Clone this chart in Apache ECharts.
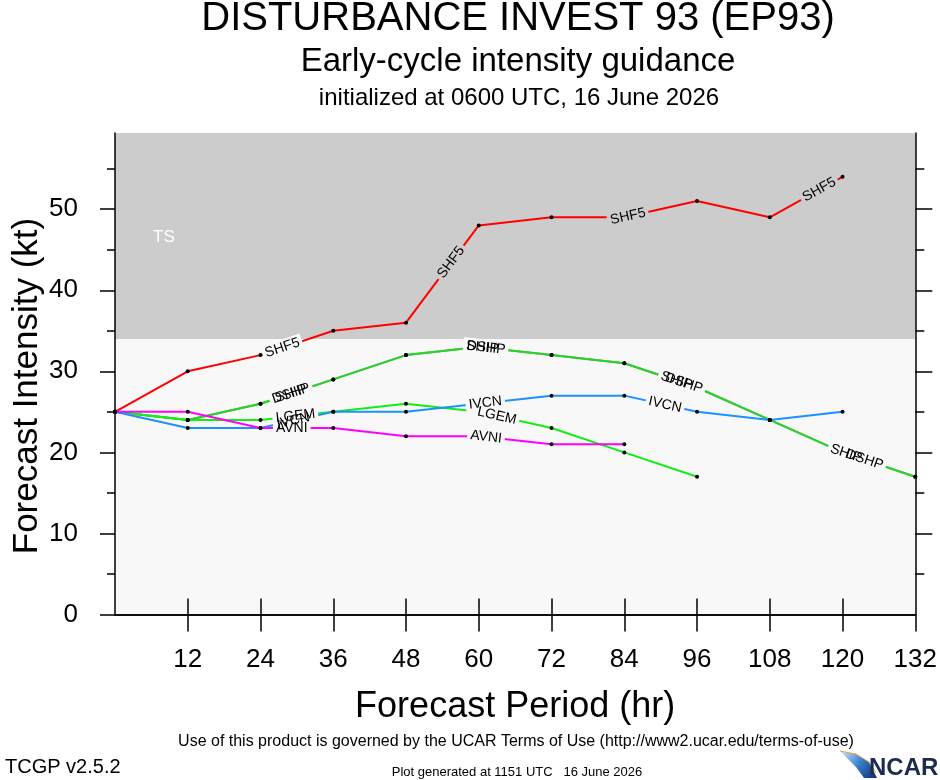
<!DOCTYPE html>
<html>
<head>
<meta charset="utf-8">
<script src="https://cdn.jsdelivr.net/npm/echarts@6/dist/echarts.min.js"></script>
<style>
  html, body { margin: 0; padding: 0; background: #fff; }
  #main { width: 940px; height: 780px; }
</style>
</head>
<body>
<div id="main"></div>
<script>
// forecast hours and model intensities (kt)
var hours = [0, 12, 24, 36, 48, 60, 72, 84, 96, 108, 120, 132];
var shf5 = [25, 30, 32, 35, 36, 48, 49, 49, 51, 49, 54];
var ship = [25, 24, 26, 29, 32, 33, 32, 31, 28, 24, 20, 17];
var dshp = [25, 24, 26, 29, 32, 33, 32, 31, 28, 24, 20, 17];
var lgem = [25, 24, 24, 25, 26, 25, 23, 20, 17];
var ivcn = [25, 23, 23, 25, 25, 26, 27, 27, 25, 24, 25];
var avni = [25, 25, 23, 23, 22, 22, 21, 21];
var xTicks = [12, 24, 36, 48, 60, 72, 84, 96, 108, 120, 132];
var xTopTicks = [12, 24, 36, 48, 60, 72, 84, 96, 108, 120];
var yTicks = [0, 10, 20, 30, 40, 50];
var yRightTicks = [10, 20, 30, 40, 50];
var yMinorTicks = [5, 15, 25, 35, 45, 55];
var yMax = 59.4;
var tsLow = 34;

(function () {
  var chart = echarts.init(document.getElementById('main'));
  var FONT = 'Liberation Sans';

  var models = {
    SHF5: { data: shf5, color: '#ff0000' },
    SHIP: { data: ship, color: '#33cc33' },
    DSHP: { data: dshp, color: '#33cc33' },
    LGEM: { data: lgem, color: '#11ee11' },
    IVCN: { data: ivcn, color: '#1e90ff' },
    AVNI: { data: avni, color: '#ff00ff' }
  };
  var order = ['SHF5', 'SHIP', 'DSHP', 'LGEM', 'IVCN', 'AVNI'];

  // inline labels: model, segment start index, fraction along segment
  var spots = [
    ['SHF5', 2, 0.3], ['SHF5', 4, 0.62], ['SHF5', 7, 0.05], ['SHF5', 9, 0.68],
    ['SHIP', 2, 0.42], ['DSHP', 2, 0.42],
    ['SHIP', 5, 0.05], ['DSHP', 5, 0.1],
    ['SHIP', 7, 0.72], ['DSHP', 7, 0.82],
    ['SHIP', 10, 0.05], ['DSHP', 10, 0.3],
    ['IVCN', 2, 0.45], ['IVCN', 5, 0.09], ['IVCN', 7, 0.56],
    ['LGEM', 2, 0.48], ['LGEM', 5, 0.25],
    ['AVNI', 2, 0.43], ['AVNI', 5, 0.1]
  ];
  var spotData = spots.map(function (s, i) {
    var v = models[s[0]].data;
    var a = s[1];
    return [hours[a], v[a], hours[a + 1], v[a + 1], s[2], i];
  });

  function labelRender(gap) {
    return function (params, api) {
      var p0 = api.coord([api.value(0), api.value(1)]);
      var p1 = api.coord([api.value(2), api.value(3)]);
      var t = api.value(4);
      var s = spots[api.value(5)];
      var kt = api.value(1) + (api.value(3) - api.value(1)) * t;
      return {
        type: 'text',
        x: p0[0] + (p1[0] - p0[0]) * t,
        y: p0[1] + (p1[1] - p0[1]) * t,
        rotation: Math.atan2(p0[1] - p1[1], p1[0] - p0[0]),
        style: {
          text: s[0],
          fontSize: 14,
          fontFamily: FONT,
          fill: gap ? 'rgba(0,0,0,0)' : '#000',
          align: 'center',
          verticalAlign: 'middle',
          backgroundColor: gap ? (kt >= tsLow ? '#cccccc' : '#f8f8f8') : null,
          padding: [1, 3]
        }
      };
    };
  }

  var series = [{
    type: 'line',
    data: [],
    z: 1,
    silent: true,
    markArea: {
      silent: true,
      itemStyle: { color: '#cccccc' },
      label: { position: [38, 96], color: '#fff', fontSize: 17, fontFamily: FONT },
      data: [[{ yAxis: tsLow, name: 'TS' }, { yAxis: yMax }]]
    }
  }];
  order.forEach(function (k) {
    series.push({
      name: k,
      type: 'line',
      z: 2,
      data: models[k].data.map(function (v, i) { return [hours[i], v]; }),
      symbol: 'circle',
      symbolSize: 4,
      itemStyle: { color: '#000' },
      lineStyle: { color: models[k].color, width: 2 },
      animation: false
    });
  });
  series.push({
    type: 'custom', z: 3, silent: true, animation: false,
    data: spotData, renderItem: labelRender(true)
  });
  series.push({
    type: 'custom', z: 4, silent: true, animation: false,
    data: spotData, renderItem: labelRender(false)
  });

  var tickStyle = { color: '#000', width: 1.5 };
  var axisLine = { lineStyle: tickStyle };

  function yAxisOf(pos, ticks, len, line, labels) {
    return {
      type: 'value', min: 0, max: yMax, position: pos, z: 10,
      axisLine: { show: line, lineStyle: tickStyle },
      axisTick: { inside: false, length: len, customValues: ticks, lineStyle: tickStyle },
      splitLine: { show: false },
      axisLabel: labels
        ? { customValues: yTicks, margin: 37, fontSize: 26, color: '#000', fontFamily: FONT }
        : { show: false }
    };
  }

  var option = {
    backgroundColor: '#fff',
    animation: false,
    grid: { left: 115, top: 133, width: 803, height: 481.5, show: true, backgroundColor: '#f8f8f8', borderWidth: 0 },
    xAxis: [{
      type: 'value', min: 0, max: 132, position: 'bottom', z: 10,
      axisLine: axisLine,
      axisTick: { inside: false, length: 17, customValues: xTicks, lineStyle: tickStyle },
      splitLine: { show: false },
      axisLabel: { customValues: xTicks, margin: 32, fontSize: 26, color: '#000', fontFamily: FONT },
      name: 'Forecast Period (hr)', nameLocation: 'middle', nameGap: 75,
      nameTextStyle: { fontSize: 36, color: '#000', fontFamily: FONT }
    }, {
      type: 'value', min: 0, max: 132, position: 'top', z: 10,
      axisLine: axisLine,
      axisTick: { inside: false, length: 16, customValues: xTopTicks, lineStyle: tickStyle },
      splitLine: { show: false },
      axisLabel: { show: false }
    }],
    yAxis: [
      yAxisOf('left', yTicks, 15, true, true),
      yAxisOf('left', yMinorTicks, 8, false, false),
      yAxisOf('right', yRightTicks, 17, true, false),
      yAxisOf('right', yMinorTicks, 9, false, false)
    ],
    series: series,
    graphic: [
      { type: 'text', x: 518, y: 19, style: { text: 'DISTURBANCE INVEST 93 (EP93)', fontSize: 40, fontFamily: FONT, fill: '#000', align: 'center', verticalAlign: 'middle' } },
      { type: 'text', x: 518, y: 62, style: { text: 'Early-cycle intensity guidance', fontSize: 33, fontFamily: FONT, fill: '#000', align: 'center', verticalAlign: 'middle' } },
      { type: 'text', x: 519, y: 98, style: { text: 'initialized at 0600 UTC, 16 June 2026', fontSize: 24, fontFamily: FONT, fill: '#000', align: 'center', verticalAlign: 'middle' } },
      { type: 'text', x: 27, y: 386, rotation: Math.PI / 2, style: { text: 'Forecast Intensity (kt)', fontSize: 35, fontFamily: FONT, fill: '#000', align: 'center', verticalAlign: 'middle' } },
      { type: 'text', x: 516, y: 742, style: { text: 'Use of this product is governed by the UCAR Terms of Use (http://www2.ucar.edu/terms-of-use)', fontSize: 16, fontFamily: FONT, fill: '#000', align: 'center', verticalAlign: 'middle' } },
      { type: 'text', x: 5, y: 767, style: { text: 'TCGP v2.5.2', fontSize: 20, fontFamily: FONT, fill: '#000', align: 'left', verticalAlign: 'middle' } },
      { type: 'text', x: 517, y: 772, style: { text: 'Plot generated at 1151 UTC   16 June 2026', fontSize: 13, fontFamily: FONT, fill: '#000', align: 'center', verticalAlign: 'middle' } },
      // NCAR logo
      {
        type: 'polygon',
        shape: { points: [[840, 751], [856, 754], [869, 762], [877, 778], [864, 778], [856, 767], [847, 758]] },
        style: {
          fill: new echarts.graphic.LinearGradient(0, 0, 1, 1, [
            { offset: 0, color: '#d8e8f8' },
            { offset: 0.5, color: '#3a7fd0' },
            { offset: 1, color: '#0a2a6a' }
          ])
        }
      },
      { type: 'polyline', shape: { points: [[840, 751], [856, 754], [869, 762], [876, 773]] }, style: { stroke: '#f0a040', lineWidth: 1, fill: null } },
      { type: 'text', x: 869, y: 768, style: { text: 'NCAR', fontSize: 24, fontWeight: 'bold', fontFamily: 'Liberation Sans Narrow, Liberation Sans', fill: '#1c2b50', align: 'left', verticalAlign: 'middle' } }
    ]
  };

  chart.setOption(option);
  window.addEventListener('resize', function () {
    chart.resize();
  });
})();
</script>
</body>
</html>
